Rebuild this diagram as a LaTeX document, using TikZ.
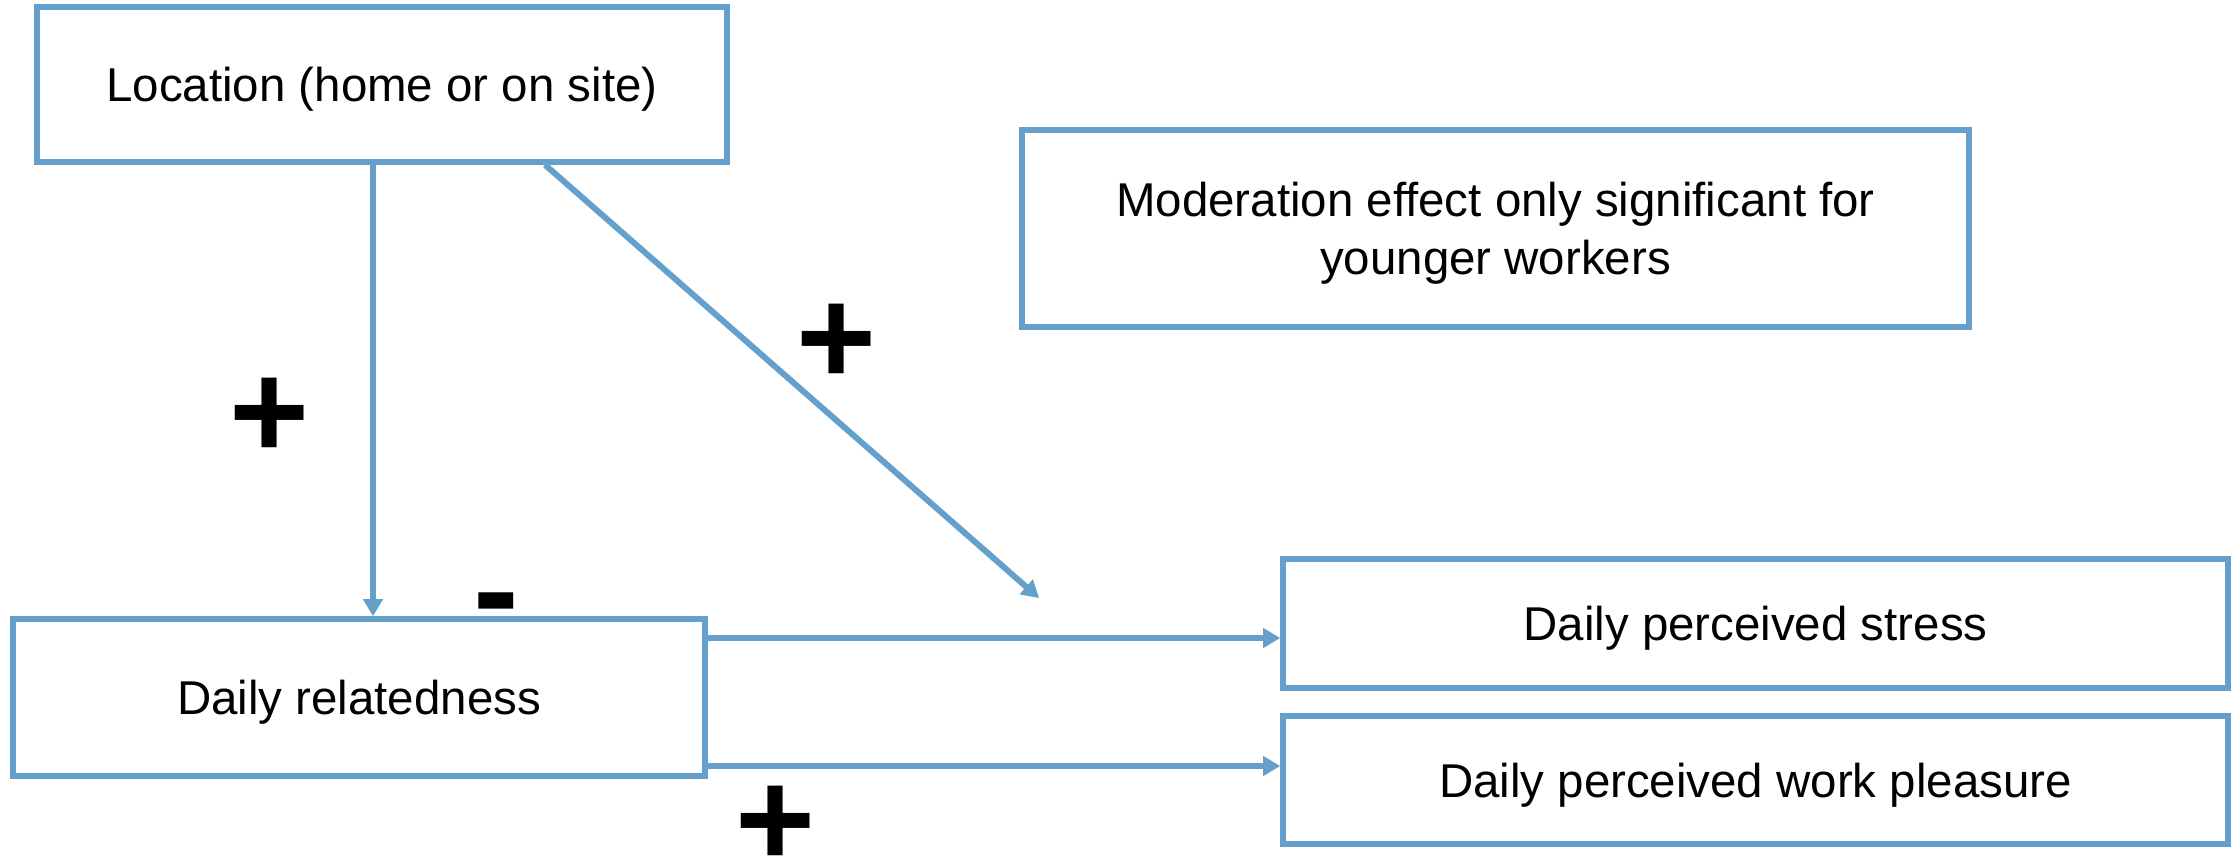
\documentclass[tikz,border=0pt]{standalone}
\usepackage{fontspec}
\setmainfont{Liberation Sans}
\usetikzlibrary{arrows.meta}
\definecolor{linkblue}{RGB}{101,159,203}
\begin{document}
\begin{tikzpicture}[scale=1,
        box/.style={draw=linkblue,line width=1.6pt,align=center,
            font=\fontsize{13.5}{16.5}\selectfont,inner sep=0pt,text depth=0pt},
        arr/.style={draw=linkblue,line width=1.7pt,
            -{Triangle[length=0.17cm,width=0.19cm]}},
        sign/.style={font=\fontsize{39}{39}\selectfont\bfseries,inner sep=0pt}]
            \fill[white] (0,0) rectangle (22.32,8.62);
            \useasboundingbox (0,0) rectangle (22.32,8.62);
            % boxes
            \node[box,minimum width=6.90cm,minimum height=1.55cm] (loc) at (3.82,7.775) {Location (home or on site)};
            \node[box,minimum width=9.47cm,minimum height=1.97cm] (mod) at (14.955,6.335)
                {Moderation effect only significant for\\younger workers};
            \node[box,minimum width=6.92cm,minimum height=1.57cm] (rel) at (3.59,1.645) {Daily relatedness};
            \node[box,minimum width=9.45cm,minimum height=1.29cm] (stress) at (17.555,2.385) {Daily perceived stress};
            \node[box,minimum width=9.45cm,minimum height=1.28cm] (pleasure) at (17.555,0.82) {Daily perceived work pleasure};
            % arrows
            \coordinate (vx) at (3.73,0);
            \coordinate (dx) at (5.45,0);
            \coordinate (modend) at (10.39,2.64);
            \coordinate (ys) at (0,2.24);
            \coordinate (yp) at (0,0.96);
            \draw[arr] (loc.south -| vx) -- (rel.north -| vx);
            \draw[arr] (loc.south -| dx) -- (modend);
            \draw[arr] (rel.east |- ys) -- (stress.west |- ys);
            \draw[arr] (rel.east |- yp) -- (pleasure.west |- yp);
            % signs
            \node[sign] (s1) at (2.70,4.44) {+};
            \node[sign] (s2) at (8.37,5.18) {+};
            \node[sign] (s3) at (4.96,2.47) {-};
            \node[sign] (s4) at (7.76,0.36) {+};
        \end{tikzpicture}
\end{document}
